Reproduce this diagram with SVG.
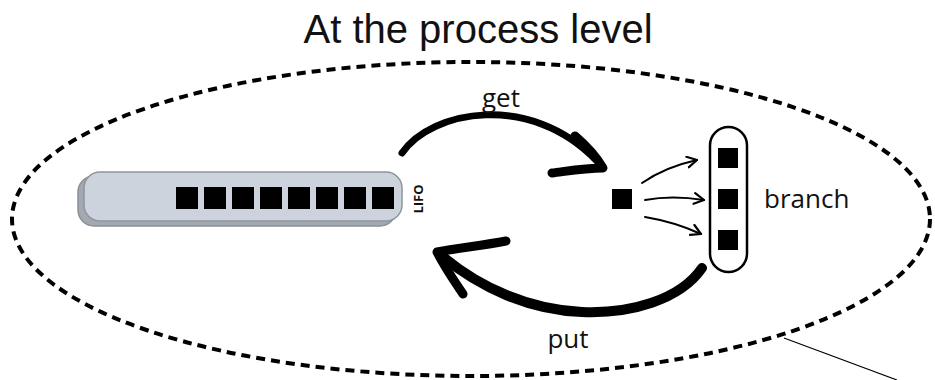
<svg xmlns="http://www.w3.org/2000/svg" width="935" height="380" viewBox="0 0 935 380">
  <defs>
    <style>
      .lbl { font-family: "Open Sans", "Liberation Sans", sans-serif; font-size: 26px; fill: #111; }
      .title { font-family: "Liberation Sans", Arial, sans-serif; font-size: 40px; fill: #111; }
      .sq { fill: #000; }
      .thick { fill: none; stroke: #000; stroke-linecap: round; stroke-linejoin: round; }
      .thin { fill: none; stroke: #000; stroke-width: 2; stroke-linecap: round; }
    </style>
    <marker id="open" viewBox="0 0 12 12" refX="10" refY="6" markerWidth="13" markerHeight="13" markerUnits="userSpaceOnUse" orient="auto">
      <path d="M1,1 L10,6 L1,11" fill="none" stroke="#000" stroke-width="2" stroke-linecap="round" stroke-linejoin="round"/>
    </marker>
  </defs>
  <rect width="935" height="380" fill="#fff"/>

  <text class="title" x="478" y="43" text-anchor="middle">At the process level</text>

  <g id="scope">
    <ellipse cx="471" cy="219" rx="459" ry="157" fill="none" stroke="#000" stroke-width="4" stroke-dasharray="9 6"/>
    <line x1="784" y1="338" x2="897" y2="380" stroke="#000" stroke-width="1.2"/>
  </g>

  <g id="lifo">
    <rect x="78" y="176" width="318" height="50" rx="16" fill="#a3a9b1" stroke="#8a9098" stroke-width="1.5"/>
    <rect x="84" y="172" width="318" height="49" rx="16" fill="#cdd3dc" stroke="#8f959d" stroke-width="1.5"/>
    <rect class="sq" x="176" y="187" width="22" height="22"/>
    <rect class="sq" x="204" y="187" width="22" height="22"/>
    <rect class="sq" x="232" y="187" width="22" height="22"/>
    <rect class="sq" x="260" y="187" width="22" height="22"/>
    <rect class="sq" x="288" y="187" width="22" height="22"/>
    <rect class="sq" x="316" y="187" width="22" height="22"/>
    <rect class="sq" x="344" y="187" width="22" height="22"/>
    <rect class="sq" x="372" y="187" width="22" height="22"/>
    <text x="0" y="0" transform="translate(423,199) rotate(-90)" text-anchor="middle" font-family="'Open Sans', 'Liberation Sans', sans-serif" font-weight="bold" font-size="13" fill="#111">LIFO</text>
  </g>

  <g id="item">
    <rect class="sq" x="612" y="189" width="20" height="20"/>
  </g>

  <g id="branch">
    <rect x="710" y="127" width="37" height="145" rx="18.5" fill="#fff" stroke="#000" stroke-width="2.5"/>
    <rect class="sq" x="718" y="148" width="20" height="20"/>
    <rect class="sq" x="718" y="189" width="20" height="20"/>
    <rect class="sq" x="718" y="230" width="20" height="20"/>
    <text class="lbl" x="764" y="208">branch</text>
  </g>

  <g id="connectors">
    <path class="thick" stroke-width="7" d="M402,153 C432,110 530,92 596,160"/>
    <path class="thick" stroke-width="9" d="M575,136 C588,147 597,158 603,168 C585,168 568,171 552,173"/>
    <text class="lbl" x="501" y="107" text-anchor="middle">get</text>

    <path class="thick" stroke-width="10" d="M702,268 C680,300 630,314 582,312 C530,310 480,288 442,256"/>
    <path class="thick" stroke-width="9" d="M506,241 C485,245 460,248 437,252 C445,268 455,282 463,294"/>
    <text class="lbl" x="568" y="348" text-anchor="middle">put</text>

    <path class="thin" marker-end="url(#open)" d="M642,183 Q665,167 697,160"/>
    <path class="thin" marker-end="url(#open)" d="M645,200 Q672,195 704,200"/>
    <path class="thin" marker-end="url(#open)" d="M645,217 Q675,222 701,234"/>
  </g>
</svg>
